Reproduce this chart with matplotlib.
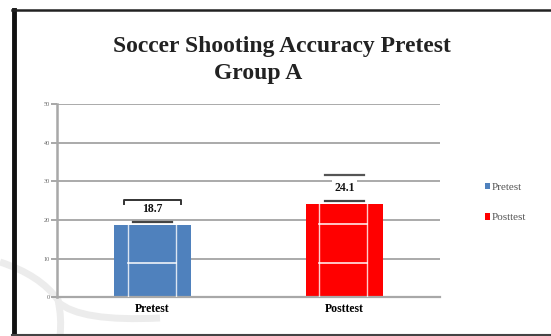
import matplotlib.pyplot as plt
from matplotlib.path import Path
from matplotlib.patches import PathPatch

categories = ["Pretest", "Posttest"]
scores = [18.7, 24.1]
colors = ["#4f81bd", "#ff0000"]
y_ticks = [0, 10, 20, 30, 40, 50]

plt.rcParams["font.family"] = ["Liberation Serif", "DejaVu Serif"]

fig = plt.figure(figsize=(5.51, 3.36), dpi=100)

# faint watermark strokes in the lower left, in pixel space
bg = fig.add_axes([0, 0, 1, 1], zorder=-5)
bg.set_xlim(0, 551)
bg.set_ylim(336, 0)
bg.axis("off")
Q = Path.CURVE3
strokes = [
    Path([(0, 262), (40, 275), (58, 300), (62, 318), (60, 336)],
         [Path.MOVETO, Q, Q, Q, Q]),
    Path([(58, 302), (80, 322), (160, 318)], [Path.MOVETO, Q, Q]),
]
for p in strokes:
    bg.add_patch(PathPatch(p, facecolor="none", edgecolor="#ececec", lw=5))

# page frame: heavy left edge, thin top and bottom
bg.plot([14, 14], [10, 336], color="#111111", lw=3.5)
bg.plot([12, 551], [10, 10], color="#222222", lw=1.8)
bg.plot([12, 551], [334.5, 334.5], color="#444444", lw=1.5)

ax = fig.add_axes([0.103, 0.115, 0.696, 0.575])
x = list(range(len(categories)))

ax.set_ylim(0, 50)
ax.set_xlim(-0.5, 1.5)
ax.set_yticks(y_ticks)
ax.set_yticklabels([str(t) for t in y_ticks], fontsize=4.5, color="#666666")
ax.tick_params(axis="y", length=4, width=1.2, color="#999999", pad=1)
ax.tick_params(axis="x", length=0, pad=4)
for t in y_ticks[1:]:
    ax.axhline(t, color="#aaaaaa", lw=1.4, zorder=1)

for side in ["top", "right"]:
    ax.spines[side].set_visible(False)
ax.spines["left"].set_color("#a8a8a8")
ax.spines["left"].set_linewidth(1.8)
ax.spines["bottom"].set_color("#a8a8a8")
ax.spines["bottom"].set_linewidth(1.6)

bars = ax.bar(x, scores, width=0.4, color=colors, zorder=2, label=categories)

# white seams across the bars
for xi, s in zip(x, scores):
    for dx in (-0.13, 0.12):
        ax.plot([xi + dx, xi + dx], [0, s], color="white", lw=1.0,
                alpha=0.8, zorder=3)
    for t in y_ticks[1:]:
        if t < s - 2:
            ax.plot([xi - 0.13, xi + 0.12], [t - 1, t - 1], color="white",
                    lw=1.2, alpha=0.9, zorder=3)

# value labels with their rules
for i, (xi, s) in enumerate(zip(x, scores)):
    ax.text(xi, s + 4.2, f"{s}", ha="center", va="center", fontsize=8.5,
            fontweight="bold", color="#111111", zorder=5,
            bbox=dict(facecolor="white", edgecolor="none", pad=1.5))
    ax.plot([xi - 0.1, xi + 0.1], [s + 0.8, s + 0.8], color="#444444",
            lw=1.6, zorder=4)
    top = s + (7.6 if i else 6.6)
    if i == 0:
        # bracket over the pretest value
        ax.plot([xi - 0.15, xi - 0.15, xi + 0.15, xi + 0.15],
                [top - 1.2, top, top, top - 1.2], color="#333333",
                lw=1.4, zorder=4)
    else:
        ax.plot([xi - 0.1, xi + 0.1], [top, top], color="#555555",
                lw=1.6, zorder=4)

ax.set_xticks(x)
ax.set_xticklabels(categories, fontsize=8.5, fontweight="bold")

fig.text(0.512, 0.862, "Soccer Shooting Accuracy Pretest", ha="center",
         va="center", fontsize=17, fontweight="bold", color="#222222")
fig.text(0.468, 0.782, "Group A", ha="center", va="center",
         fontsize=17, fontweight="bold", color="#222222")

ax.legend(bars, categories, loc="center left", bbox_to_anchor=(1.09, 0.49),
          frameon=False, fontsize=8, handlelength=0.5, handleheight=0.5,
          handletextpad=0.15, labelspacing=1.9,
          labelcolor="#555555")

fig.savefig("out.png", dpi=100)
